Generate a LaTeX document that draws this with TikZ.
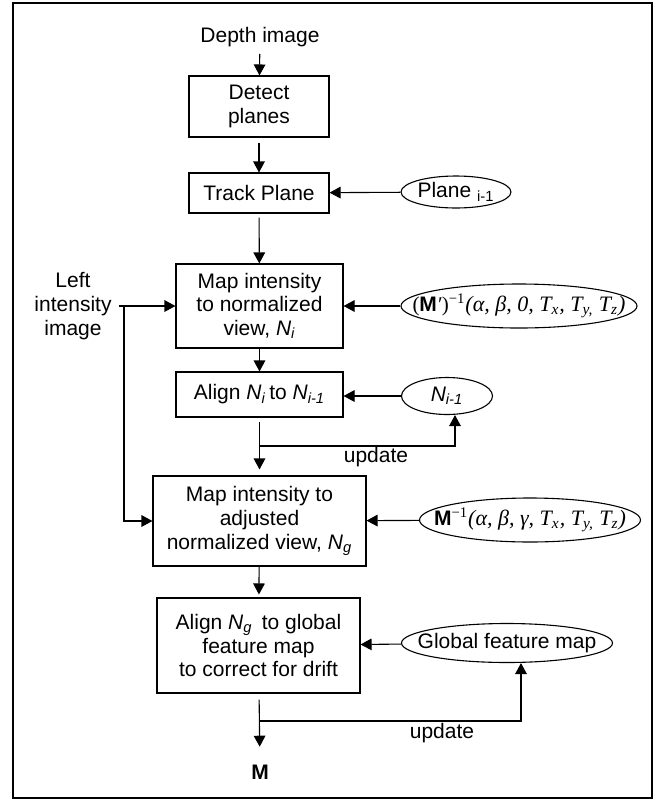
\documentclass[tikz,border=0pt]{standalone}
\usepackage{fontspec}
\setmainfont{Liberation Sans}
\newfontfamily\tms{Liberation Serif}
\usepackage{tikz}
\usetikzlibrary{arrows.meta,shapes.geometric}

\begin{document}
\begin{tikzpicture}[x=0.5pt, y=-0.5pt,
  every node/.style={align=center, font=\fontsize{10.5}{11.8}\selectfont},
  box/.style={draw, line width=0.55pt, inner sep=1pt},
  oval/.style={draw, ellipse, line width=0.55pt, inner xsep=-40pt, inner ysep=-12pt},
  flow/.style={line width=0.55pt, -{Triangle[length=5.5pt, width=5.8pt]}}]
\useasboundingbox (0,0) rectangle (656,800);
\draw[line width=0.6pt] (13,3) rectangle (652,798);

\node (depth) at (260,37) {Depth image};
\node[box, minimum width=70pt, minimum height=30.5pt] (detect) at (259,106.5) {Detect\\planes};
\node[box, minimum width=70pt, minimum height=20pt] (track) at (259,193) {Track Plane};
\node[oval, minimum width=55pt, minimum height=16pt] (plane) at (456,192) {Plane \textsubscript{i-1}};
\node[box, minimum width=83.5pt, minimum height=42pt] (mapn) at (259.5,306) {Map intensity\\to normalized\\view, \textit{N\textsubscript{i}}};
\node[oval, minimum width=118pt, minimum height=22pt] (mprime) at (519,306)
  {{\tms(}\textbf{M}{\tms\textit{′})}\textsuperscript{\tms −1}{\tms\fontsize{11}{12}\selectfont\itshape(α, β, 0, T\textsubscript{x}, T\textsubscript{y,} T\textsubscript{z})}};
\node (left) at (73,306) {Left\\intensity\\image};
\node[box, minimum width=83.5pt, minimum height=22.5pt] (alignn) at (259.5,394.5) {Align \textit{N\textsubscript{i}}\,to \textit{N\textsubscript{i-1}}};
\node[oval, minimum width=45.5pt, minimum height=18.5pt] (nprev) at (447,396) {\textit{N\textsubscript{i-1}}};
\node[box, minimum width=106.5pt, minimum height=45pt] (mapg) at (259.5,521) {Map intensity to\\adjusted\\normalized view, \textit{N\textsubscript{g}}};
\node[oval, minimum width=110.5pt, minimum height=22pt] (minv) at (530,520)
  {\textbf{M}\textsuperscript{\tms −1}{\tms\fontsize{11}{12}\selectfont\itshape(α, β, γ, T\textsubscript{x}, T\textsubscript{y,} T\textsubscript{z})}};
\node[box, minimum width=101.5pt, minimum height=47.5pt] (aligng) at (258.5,645.5) {Align \textit{N\textsubscript{g}} \,to global\\feature map\\to correct for drift};
\node[oval, minimum width=105.5pt, minimum height=19.5pt] (gmap) at (507,643) {Global feature map};
\node (m) at (260,772) {\textbf{M}};
\node (upd1) at (376,457) {update};
\node (upd2) at (442,733) {update};

% main column
\draw[flow] (depth) -- (detect);
\draw[flow, shorten <=2.5pt] (detect) -- (track);
\draw[flow, shorten <=2pt] (track) -- (mapn);
\draw[flow] (mapn) -- (alignn);
\draw[flow, shorten <=2pt, shorten >=3pt] (alignn) -- (mapg);
\draw[flow, shorten >=1.5pt] (mapg) -- (aligng);
\draw[flow, shorten <=3pt, shorten >=5.5pt] (aligng) -- (m);

% side inputs
\draw[flow] (plane) -- (track);
\draw[flow] (mprime) -- (mapn);
\draw[flow] (nprev.west) -- (nprev.west -| alignn.east);
\draw[flow] (minv) -- (mapg);
\draw[flow] (gmap) -- (aligng);

% left intensity image
\coordinate (split) at (124,306);
\draw[flow] (left) -- (mapn);
\draw[flow] (split) |- (mapg.west);

% updates
\coordinate (up1) at (259.5,446);
\draw[flow] (up1) -| ([xshift=4pt]nprev.south);
\coordinate (up2) at (259.5,721);
\draw[flow] (up2) -| ([xshift=7pt]gmap.south);
\end{tikzpicture}
\end{document}
